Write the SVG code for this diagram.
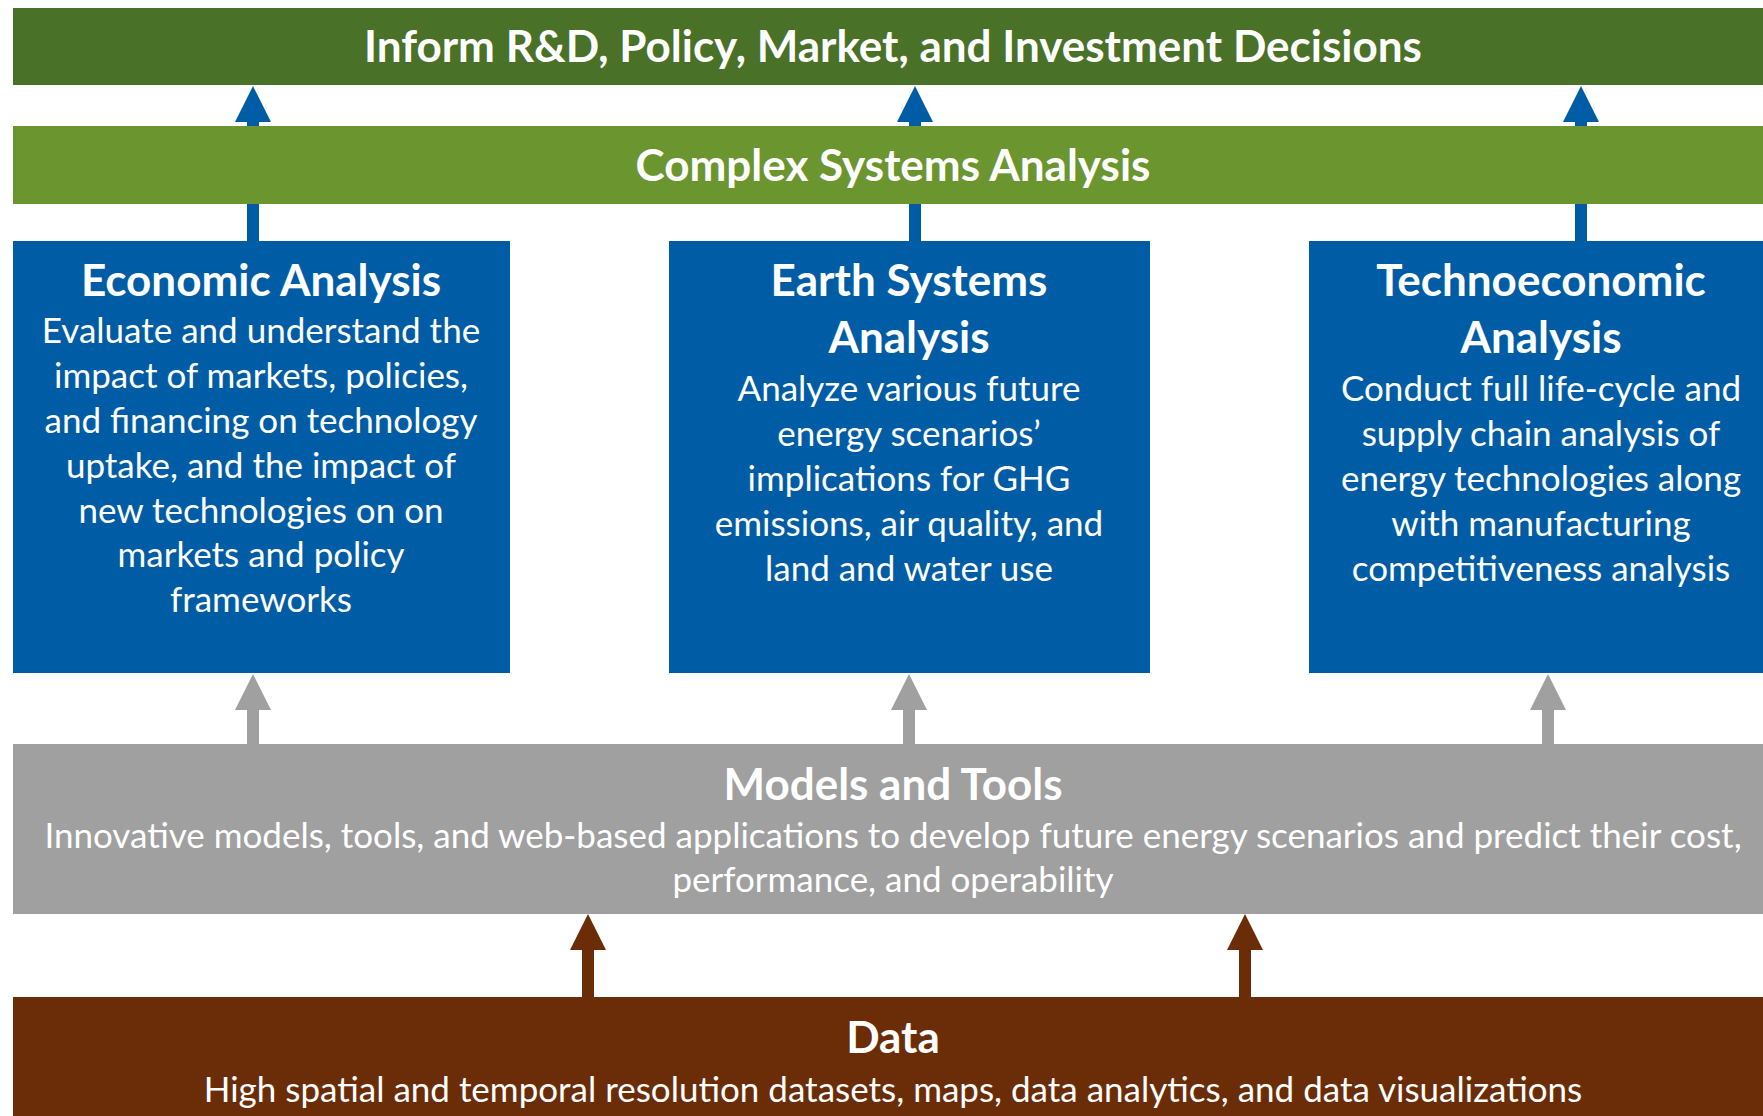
<svg xmlns="http://www.w3.org/2000/svg" width="1763" height="1116" viewBox="0 0 1763 1116">
  <style>
    text { font-family: Lato, "Open Sans", "Liberation Sans", sans-serif; fill: #ffffff; text-anchor: middle; }
    .band-title { font-size: 44px; font-weight: bold; }
    .box-title { font-size: 44px; font-weight: bold; }
    .body { font-size: 35px; }
    .decide { fill: #4a7128; }
    .complex { fill: #6b962f; }
    .analysis { fill: #005da5; }
    .models { fill: #a0a0a0; }
    .data { fill: #6b2d07; }
    .arrow-blue { fill: #005da5; }
    .arrow-gray { fill: #a0a0a0; }
    .arrow-brown { fill: #6b2d07; }
  </style>

  <rect width="1763" height="1116" fill="#ffffff"/>

  <!-- connectors: block arrows drawn first so the bands sit over the shafts -->
  <g id="connectors">
    <!-- analysis boxes up to the decision band -->
    <path class="arrow-blue" d="M253 86 L271 122 L259 122 L259 241 L247 241 L247 122 L235 122 Z"/>
    <path class="arrow-blue" d="M915 86 L933 122 L921 122 L921 241 L909 241 L909 122 L897 122 Z"/>
    <path class="arrow-blue" d="M1581 86 L1599 122 L1587 122 L1587 241 L1575 241 L1575 122 L1563 122 Z"/>
    <!-- models band up to the analysis boxes -->
    <path class="arrow-gray" d="M253 674 L271 710 L259 710 L259 744 L247 744 L247 710 L235 710 Z"/>
    <path class="arrow-gray" d="M909 674 L927 710 L915 710 L915 744 L903 744 L903 710 L891 710 Z"/>
    <path class="arrow-gray" d="M1548 674 L1566 710 L1554 710 L1554 744 L1542 744 L1542 710 L1530 710 Z"/>
    <!-- data band up to the models band -->
    <path class="arrow-brown" d="M588 914 L606 950 L594 950 L594 997 L582 997 L582 950 L570 950 Z"/>
    <path class="arrow-brown" d="M1245 914 L1263 950 L1251 950 L1251 997 L1239 997 L1239 950 L1227 950 Z"/>
  </g>

  <g id="decisions">
    <rect class="decide" x="13" y="8" width="1750" height="77"/>
    <text class="band-title" x="893" y="62">Inform R&amp;D, Policy, Market, and Investment Decisions</text>
  </g>

  <g id="complex-systems">
    <rect class="complex" x="13" y="126" width="1750" height="78"/>
    <text class="band-title" x="893" y="181">Complex Systems Analysis</text>
  </g>

  <g id="economic-analysis">
    <rect class="analysis" x="13" y="241" width="497" height="432"/>
    <text class="box-title" x="261" y="296">Economic Analysis</text>
    <text class="body" x="261" y="343">Evaluate and understand the</text>
    <text class="body" x="261" y="388">impact of markets, policies,</text>
    <text class="body" x="261" y="433">and financing on technology</text>
    <text class="body" x="261" y="478">uptake, and the impact of</text>
    <text class="body" x="261" y="523">new technologies on on</text>
    <text class="body" x="261" y="567">markets and policy</text>
    <text class="body" x="261" y="612">frameworks</text>
  </g>

  <g id="earth-systems-analysis">
    <rect class="analysis" x="669" y="241" width="481" height="432"/>
    <text class="box-title" x="909" y="296">Earth Systems</text>
    <text class="box-title" x="909" y="353">Analysis</text>
    <text class="body" x="909" y="401">Analyze various future</text>
    <text class="body" x="909" y="446">energy scenarios’</text>
    <text class="body" x="909" y="491">implications for GHG</text>
    <text class="body" x="909" y="536">emissions, air quality, and</text>
    <text class="body" x="909" y="581">land and water use</text>
  </g>

  <g id="technoeconomic-analysis">
    <rect class="analysis" x="1309" y="241" width="454" height="432"/>
    <text class="box-title" x="1541" y="296">Technoeconomic</text>
    <text class="box-title" x="1541" y="353">Analysis</text>
    <text class="body" x="1541" y="401">Conduct full life-cycle and</text>
    <text class="body" x="1541" y="446">supply chain analysis of</text>
    <text class="body" x="1541" y="491">energy technologies along</text>
    <text class="body" x="1541" y="536">with manufacturing</text>
    <text class="body" x="1541" y="581">competitiveness analysis</text>
  </g>

  <g id="models-and-tools">
    <rect class="models" x="13" y="744" width="1750" height="170"/>
    <text class="box-title" x="893" y="800">Models and Tools</text>
    <text class="body" x="893" y="848">Innovative models, tools, and web-based applications to develop future energy scenarios and predict their cost,</text>
    <text class="body" x="893" y="892">performance, and operability</text>
  </g>

  <g id="data">
    <rect class="data" x="13" y="997" width="1750" height="119"/>
    <text class="box-title" x="893" y="1053">Data</text>
    <text class="body" x="893" y="1102">High spatial and temporal resolution datasets, maps, data analytics, and data visualizations</text>
  </g>
</svg>
